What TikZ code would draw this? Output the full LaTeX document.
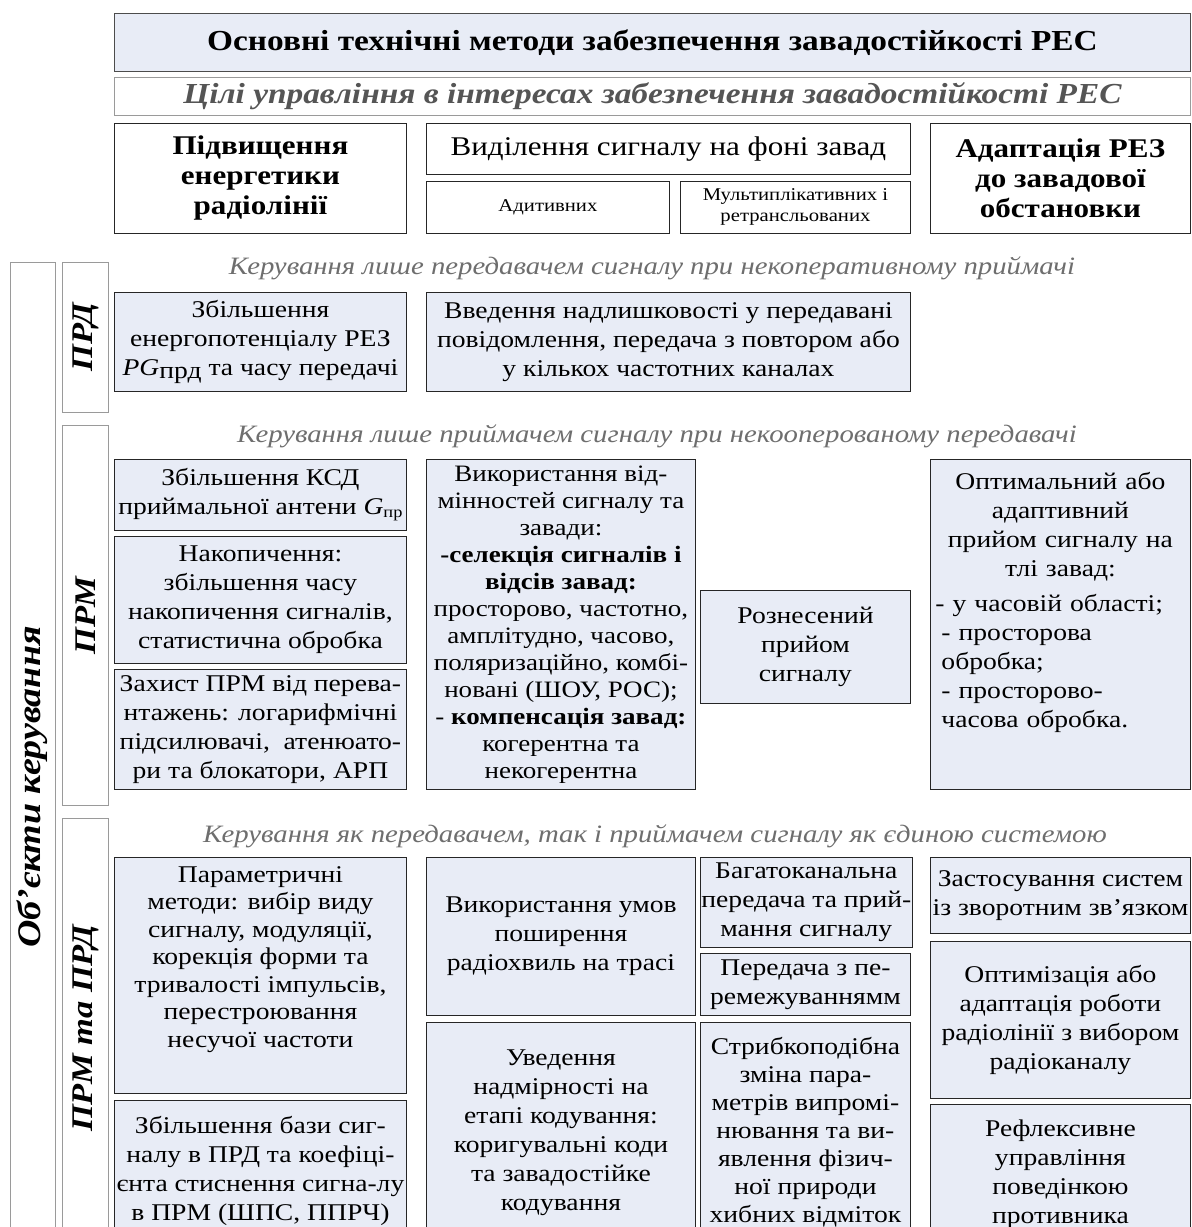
\documentclass[tikz,border=0pt]{standalone}
\usepackage{fontspec}
\setmainfont{Liberation Serif}[FakeStretch=1.15]
\definecolor{Cellfill}{HTML}{E8ECF6}
\definecolor{Frame}{HTML}{9A9A9A}
\definecolor{Hint}{HTML}{6E6E6E}
\definecolor{Goaltext}{HTML}{555555}
\newcommand\cellfont{\fontsize{24}{29}\selectfont}
\newcommand\headfont{\fontsize{27}{30}\selectfont}

\begin{document}
\begin{tikzpicture}[x=1pt,y=-1pt,sz/.style 2 args={minimum width=#1,minimum height=#2},cell/.style={draw=black!85,line width=0.9pt,fill=Cellfill,anchor=north west,align=center,inner sep=1pt,font=\cellfont},goal/.style={draw=black!85,line width=0.9pt,fill=white,anchor=north west,align=center,inner sep=1pt},objbox/.style={draw=Frame,line width=0.8pt,fill=white,anchor=north west},objtext/.style={rotate=90,font=\fontsize{30}{32}\selectfont\bfseries\itshape},hint/.style={font=\fontsize{25}{27}\selectfont\itshape,text=Hint}]
\useasboundingbox (0,0) rectangle (1192,1227);
\clip (0,0) rectangle (1192,1227);
\fill[white] (0,0) rectangle (1192,1227);
% headings
\node[goal,fill=Cellfill,draw=black!70,sz={1076}{58},font=\fontsize{29}{32}\selectfont\bfseries] (title) at (114,13) {Основні технічні методи забезпечення завадостійкості РЕС};
\node[goal,draw=Frame,sz={1076}{38},font=\fontsize{29}{32}\selectfont\bfseries\itshape,text=Goaltext] (aims) at (114,77) {Цілі управління в інтересах забезпечення завадостійкості РЕС};
\node[goal,sz={292}{110},font=\headfont\bfseries] (energy) at (114,123) {Підвищення\\енергетики\\радіолінії};
\node[goal,sz={484}{51},font=\headfont] (extract) at (426,123) {Виділення сигналу на фоні завад};
\node[goal,sz={243}{52},font=\fontsize{18}{21}\selectfont] (additive) at (426,181) {Адитивних};
\node[goal,sz={230}{52},font=\fontsize{18}{21}\selectfont] (multipl) at (680,181) {Мультиплікативних і\\ретрансльованих};
\node[goal,sz={260}{110},font=\headfont\bfseries] (adapt) at (930,123) {Адаптація РЕЗ\\до завадової\\обстановки};
% objects of control
\node[objbox,sz={45}{980}] (objects) at (10,262) {};
\node[objtext,font=\fontsize{33}{35}\selectfont\bfseries\itshape] (objlabel) at (32,787) {Об’єкти керування};
\node[objbox,sz={46}{150}] (prd) at (62,262) {};
\node[objtext] (prdlabel) at (prd.center) {ПРД};
\node[objbox,sz={46}{380}] (prm) at (62,425) {};
\node[objtext] (prmlabel) at (prm.center) {ПРМ};
\node[objbox,sz={46}{420}] (both) at (62,818) {};
\node[objtext] (bothlabel) at (both.center) {ПРМ та ПРД};
% transmitter only
\node[hint] (hinttx) at (652,268) {Керування лише передавачем сигналу при некоперативному приймачі};
\node[cell,sz={292}{99}] (potential) at (114,292) {Збільшення\\енергопотенціалу РЕЗ\\\textit{PG}\raisebox{-0.25ex}{прд} та часу передачі};
\node[cell,sz={484}{99}] (redund) at (426,292) {Введення надлишковості у передавані\\повідомлення, передача з повтором або\\у кількох частотних каналах};
% receiver only
\node[hint] (hintrx) at (657,436) {Керування лише приймачем сигналу при некооперованому передавачі};
\node[cell,sz={292}{71}] (ksd) at (114,459) {Збільшення КСД\\приймальної антени \textit{G}\raisebox{-0.3ex}{\fontsize{16}{18}\selectfont пр}};
\node[cell,sz={292}{127}] (accum) at (114,536) {Накопичення:\\збільшення часу\\накопичення сигналів,\\статистична обробка};
\node[cell,sz={292}{120}] (protect) at (114,669) {Захист ПРМ від перева-\\нтажень: логарифмічні\\підсилювачі,~ атенюато-\\ри та блокатори, АРП};
\node[cell,sz={269}{330},font=\fontsize{23.5}{27}\selectfont] (differ) at (426,459) {Використання від-\\мінностей сигналу та\\завади:\\\textbf{-селекція сигналів і}\\\textbf{відсів завад:}\\просторово, частотно,\\амплітудно, часово,\\поляризаційно, комбі-\\новані (ШОУ, РОС);\\- \textbf{компенсація завад:}\\когерентна та\\некогерентна};
\node[cell,sz={210}{113}] (spaced) at (700,590) {Рознесений\\прийом\\сигналу};
\node[cell,sz={260}{330}] (optim) at (930,459) {};
\node[font=\cellfont,text width=250pt,align=left,anchor=north] (optimtext) at ([yshift=-10pt]optim.north) {{\centering Оптимальний або\\адаптивний\\прийом сигналу на\\тлі завад:\par}\vspace{6pt}- у часовій області;\\\hspace*{6pt}- просторова\\\hspace*{6pt}обробка;\\\hspace*{6pt}- просторово-\\\hspace*{6pt}часова обробка.};
% transmitter and receiver as one system
\node[hint] (hintboth) at (655,836) {Керування як передавачем, так і приймачем сигналу як єдиною системою};
\node[cell,sz={292}{236}] (param) at (114,857) {};
\node[font=\fontsize{24}{27.5}\selectfont,align=center,anchor=north] (paramtext) at ([yshift=-6pt]param.north) {Параметричні\\методи: вибір виду\\сигналу, модуляції,\\корекція форми та\\тривалості імпульсів,\\перестроювання\\несучої частоти};
\node[cell,sz={292}{140}] (base) at (114,1100) {Збільшення бази сиг-\\налу в ПРД та коефіці-\\єнта стиснення сигна-лу\\в ПРМ (ШПС, ППРЧ)};
\node[cell,sz={269}{158}] (propag) at (426,857) {Використання умов\\поширення\\радіохвиль на трасі};
\node[cell,sz={269}{220}] (coding) at (426,1022) {Уведення\\надмірності на\\етапі кодування:\\коригувальні коди\\та завадостійке\\кодування};
\node[cell,sz={210}{90}] (multich) at (700,857) {Багатоканальна\\передача та прий-\\мання сигналу};
\node[cell,sz={210}{62}] (interl) at (700,953) {Передача з пе-\\ремежуваннямм};
\node[cell,sz={210}{220},font=\fontsize{24}{28}\selectfont] (hopping) at (700,1022) {Стрибкоподібна\\зміна пара-\\метрів випромі-\\нювання та ви-\\явлення фізич-\\ної природи\\хибних відміток};
\node[cell,sz={260}{76}] (feedback) at (930,857) {Застосування систем\\із зворотним зв’язком};
\node[cell,sz={260}{157}] (optlink) at (930,941) {Оптимізація або\\адаптація роботи\\радіолінії з вибором\\радіоканалу};
\node[cell,sz={260}{140}] (reflex) at (930,1104) {Рефлексивне\\управління\\поведінкою\\противника};
\end{tikzpicture}
\end{document}
